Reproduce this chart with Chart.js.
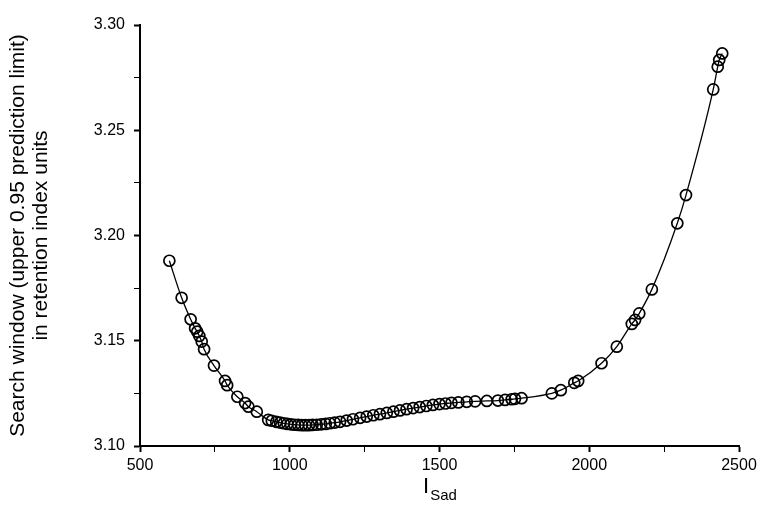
<!DOCTYPE html>
<html>
<head>
<meta charset="utf-8">
<script src="https://cdn.jsdelivr.net/npm/chart.js@4.4.1/dist/chart.umd.min.js"></script>
<style>
  html, body { margin: 0; padding: 0; background: #fff; }
</style>
</head>
<body>
<canvas id="grafico" width="763" height="506"></canvas>
<script>
// --- datos ---
const isad = [598, 639, 669, 684, 691, 698, 706, 714, 747, 784, 791, 825, 851, 862, 890, 928,
  940, 955, 968, 980, 992, 1004, 1016, 1028, 1040, 1052, 1064, 1076, 1090, 1105, 1120, 1134,
  1150, 1168, 1190, 1211, 1235, 1257, 1279, 1301, 1324, 1346, 1368, 1390, 1412, 1434, 1456,
  1478, 1500, 1520, 1540, 1563, 1591, 1619, 1658, 1695, 1719, 1741, 1752, 1774, 1875, 1905,
  1950, 1963, 2041, 2092, 2142, 2153, 2167, 2209, 2294, 2323, 2414, 2429, 2434, 2444];
const searchWindow = [3.1880, 3.1704, 3.1602, 3.1559, 3.1543, 3.1523, 3.1496, 3.1460, 3.1382,
  3.1309, 3.1289, 3.1234, 3.1204, 3.1187, 3.1163, 3.1124,
  3.1120, 3.1115, 3.1111, 3.1108, 3.1105, 3.1103, 3.1101, 3.1100, 3.1099, 3.1099, 3.1099,
  3.1100, 3.1101, 3.1103, 3.1105, 3.1108, 3.1111, 3.1115, 3.1121, 3.1127, 3.1134, 3.1140,
  3.1146, 3.1151, 3.1157, 3.1163, 3.1169, 3.1175, 3.1180, 3.1185, 3.1190, 3.1195, 3.1199,
  3.1202, 3.1205, 3.1207, 3.1210, 3.1212, 3.1214, 3.1216, 3.1219, 3.1222, 3.1224, 3.1227,
  3.1250, 3.1265, 3.1300, 3.1309, 3.1393, 3.1472, 3.1580, 3.1599, 3.1630, 3.1744, 3.2058,
  3.2192, 3.2694, 3.2802, 3.2834, 3.2865];

const xTicks = [500, 1000, 1500, 2000, 2500];
const yTicks = ["3.10", "3.15", "3.20", "3.25", "3.30"];
const yTitle = ["Search window (upper 0.95 prediction limit)", "in retention index units"];
const xTitleMain = "I";
const xTitleSub = "Sad";

const fuente = "'Liberation Sans', Arial, sans-serif";

const puntos = isad.map((x, i) => ({ x: x, y: searchWindow[i] }));

// titulo del eje x con subindice
const tituloX = {
  id: 'tituloX',
  afterDraw(chart) {
    const ctx = chart.ctx;
    const area = chart.chartArea;
    ctx.save();
    ctx.fillStyle = '#000';
    ctx.textBaseline = 'alphabetic';
    ctx.font = "22px " + fuente;
    const w1 = ctx.measureText(xTitleMain).width;
    ctx.font = "15px " + fuente;
    const w2 = ctx.measureText(xTitleSub).width;
    const x0 = (area.left + area.right) / 2 - (w1 + w2) / 2;
    ctx.font = "22px " + fuente;
    ctx.fillText(xTitleMain, x0, 493);
    ctx.font = "15px " + fuente;
    ctx.fillText(xTitleSub, x0 + w1 + 1, 500);
    ctx.restore();
  }
};

new Chart(document.getElementById('grafico'), {
  type: 'scatter',
  data: {
    datasets: [{
      data: puntos,
      showLine: true,
      cubicInterpolationMode: 'monotone',
      borderColor: '#000',
      borderWidth: 1.3,
      pointRadius: 5.5,
      pointBorderWidth: 1.7,
      pointBorderColor: '#000',
      pointBackgroundColor: 'rgba(0,0,0,0)',
      fill: false
    }]
  },
  options: {
    responsive: false,
    animation: false,
    layout: { padding: { left: 0, right: 24, top: 25, bottom: 0 } },
    plugins: {
      legend: { display: false },
      tooltip: { enabled: false }
    },
    scales: {
      x: {
        type: 'linear',
        min: xTicks[0],
        max: xTicks[xTicks.length - 1],
        afterFit: s => { s.height = 60; },
        ticks: {
          stepSize: 250,
          autoSkip: false,
          maxRotation: 0,
          padding: 4,
          color: '#000',
          font: { family: fuente, size: 16 },
          callback: v => xTicks.includes(v) ? String(v) : ''
        },
        grid: {
          drawOnChartArea: false,
          drawTicks: true,
          tickLength: 6,
          tickColor: '#000',
          tickWidth: c => xTicks.includes(c.tick && c.tick.value) ? 2 : 1
        },
        border: { display: true, color: '#000', width: 2 }
      },
      y: {
        min: Number(yTicks[0]),
        max: Number(yTicks[yTicks.length - 1]),
        afterFit: s => { s.width = 140; },
        ticks: {
          stepSize: 0.025,
          autoSkip: false,
          padding: 9,
          color: '#000',
          font: { family: fuente, size: 16 },
          callback: v => {
            const lbl = v.toFixed(2);
            return yTicks.includes(lbl) && Math.abs(v - Number(lbl)) < 1e-6 ? lbl : '';
          }
        },
        grid: {
          drawOnChartArea: false,
          drawTicks: true,
          tickLength: 6,
          tickColor: '#000',
          tickWidth: c => {
            const v = c.tick ? c.tick.value : 0;
            return Math.abs(v * 20 - Math.round(v * 20)) < 1e-6 ? 2 : 1;
          }
        },
        border: { display: true, color: '#000', width: 2 },
        title: {
          display: true,
          text: yTitle,
          color: '#000',
          font: { family: fuente, size: 21, lineHeight: 1.1 },
          padding: { top: 7, bottom: 0 }
        }
      }
    }
  },
  plugins: [tituloX]
});
</script>
</body>
</html>
